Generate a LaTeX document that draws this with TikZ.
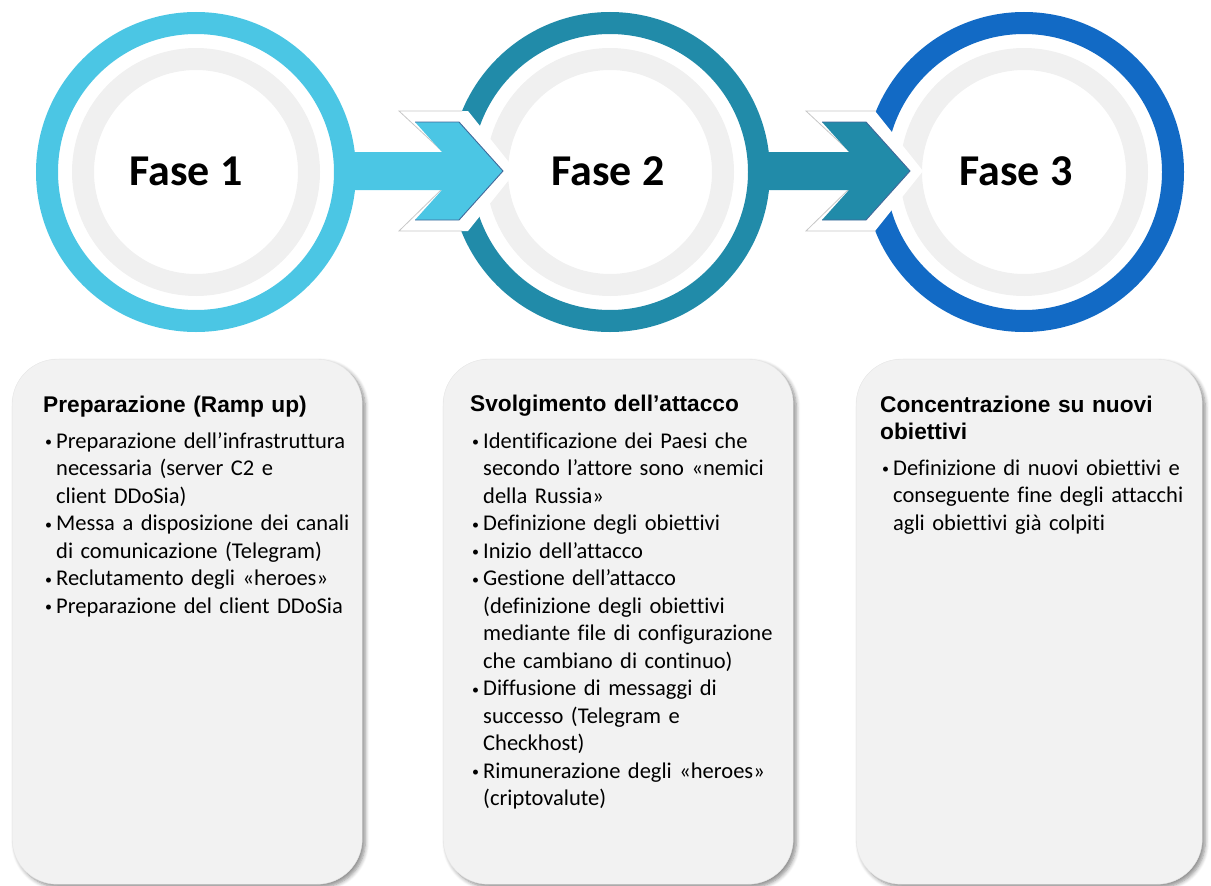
\documentclass[tikz,border=0pt]{standalone}
\usepackage{fontspec}
\setmainfont{Carlito}[Ligatures={TeX,NoCommon}]
\newfontfamily\headfont{Liberation Sans}
\usetikzlibrary{positioning,shadows.blur}
\definecolor{faseA}{HTML}{4BC6E4}
\definecolor{faseB}{HTML}{218BA9}
\definecolor{faseC}{HTML}{126AC5}
\definecolor{ringgrey}{HTML}{F0F0F0}
\definecolor{panelgrey}{HTML}{F2F2F2}
\definecolor{headline}{HTML}{41689A}
\newcommand{\blt}{\makebox[11pt][l]{\raisebox{1.5pt}{\fontsize{14}{14}\selectfont •}}}
\newcommand{\ind}{\hspace*{11pt}}
\begin{document}
\begin{tikzpicture}[x=1pt,y=-1pt,
    ring/.style={line width=22pt},
    inring/.style={line width=22pt,ringgrey},
    fase/.style={font=\bfseries\fontsize{44}{50}\selectfont,anchor=base,inner sep=0pt},
    panel/.style={fill=panelgrey,draw=black!10,rounded corners=45pt,minimum width=350pt,minimum height=525pt,
      anchor=north west,inner sep=0pt,
      blur shadow={shadow xshift=3pt,shadow yshift=-3pt,shadow blur steps=6,shadow blur radius=4pt,shadow opacity=45}},
    ptitle/.style={font=\headfont\bfseries\fontsize{22.7}{27}\selectfont,anchor=base west,inner sep=0pt,text width=330pt,align=left},
    plist/.style={font=\fontsize{22.5}{27.5}\selectfont,anchor=base west,inner sep=0pt,text width=330pt,align=left},
    halo/.style={fill=white},
    haloline/.style={black!22,line width=0.8pt},
    headedge/.style={headline,line width=0.9pt,line join=miter}]
    \useasboundingbox (0,0) rectangle (1211,886);
    \coordinate (c1) at (196,172);
    \coordinate (c2) at (610,172);
    \coordinate (c3) at (1024,172);
    \draw[ring,faseA] (c1) circle[radius=149pt];
    \draw[inring] (c1) circle[radius=113pt];
    \draw[ring,faseB] (c2) circle[radius=149pt];
    \draw[inring] (c2) circle[radius=113pt];
    \draw[ring,faseC] (c3) circle[radius=149pt];
    \draw[inring] (c3) circle[radius=113pt];
    \fill[halo] (442,151) -- (399,111) -- (468,111) -- (516,171) -- (468,231) -- (399,231) -- (442,189) -- cycle;
    \draw[haloline] (442,151) -- (399,111) -- (462,111) (442,189) -- (399,231) -- (462,231);
    \fill[faseA] (345,152) -- (442,152) -- (415,122) -- (459,122) -- (503,171) -- (459,220) -- (415,220) -- (442,190) -- (345,190) -- cycle;
    \draw[headedge] (415,122) -- (459,122) -- (503,171) -- (459,220) -- (415,220);
    \fill[halo] (849,151) -- (806,111) -- (875,111) -- (923,171) -- (875,231) -- (806,231) -- (849,189) -- cycle;
    \draw[haloline] (849,151) -- (806,111) -- (876,111) (849,189) -- (806,231) -- (876,231);
    \fill[faseB] (759,152) -- (849,152) -- (822,122) -- (866,122) -- (910,171) -- (866,220) -- (822,220) -- (849,190) -- (759,190) -- cycle;
    \draw[headedge] (822,122) -- (866,122) -- (910,171) -- (866,220) -- (822,220);
    \node[fase] (f1) at (186,185) {Fase 1};
    \node[fase] (f2) at (608,185) {Fase 2};
    \node[fase] (f3) at (1016,185) {Fase 3};
    \node[panel] (box1) at (12,359) {};
    \node[panel] (box2) at (443,359) {};
    \node[panel,minimum width=346pt] (box3) at (856,359) {};
    \node[ptitle] (t1) at (43,412) {Preparazione (Ramp up)};
    \node[plist] (l1) at (45,448) {\blt Preparazione dell’infrastruttura\\
      \ind necessaria (server C2 e\\
      \ind client DDoSia)\\
      \blt Messa a disposizione dei canali\\
      \ind di comunicazione (Telegram)\\
      \blt Reclutamento degli «heroes»\\
      \blt Preparazione del client DDoSia};
    \node[ptitle] (t2) at (470,411) {Svolgimento dell’attacco};
    \node[plist] (l2) at (472,448) {\blt Identificazione dei Paesi che\\
      \ind secondo l’attore sono «nemici\\
      \ind della Russia»\\
      \blt Definizione degli obiettivi\\
      \blt Inizio dell’attacco\\
      \blt Gestione dell’attacco\\
      \ind (definizione degli obiettivi\\
      \ind mediante file di configurazione\\
      \ind che cambiano di continuo)\\
      \blt Diffusione di messaggi di\\
      \ind successo (Telegram e\\
      \ind Checkhost)\\
      \blt Rimunerazione degli «heroes»\\
      \ind (criptovalute)};
    \node[ptitle] (t3) at (880,412) {Concentrazione su nuovi\\obiettivi};
    \node[plist] (l3) at (882,475) {\blt Definizione di nuovi obiettivi e\\
      \ind conseguente fine degli attacchi\\
      \ind agli obiettivi già colpiti};
\end{tikzpicture}
\end{document}
